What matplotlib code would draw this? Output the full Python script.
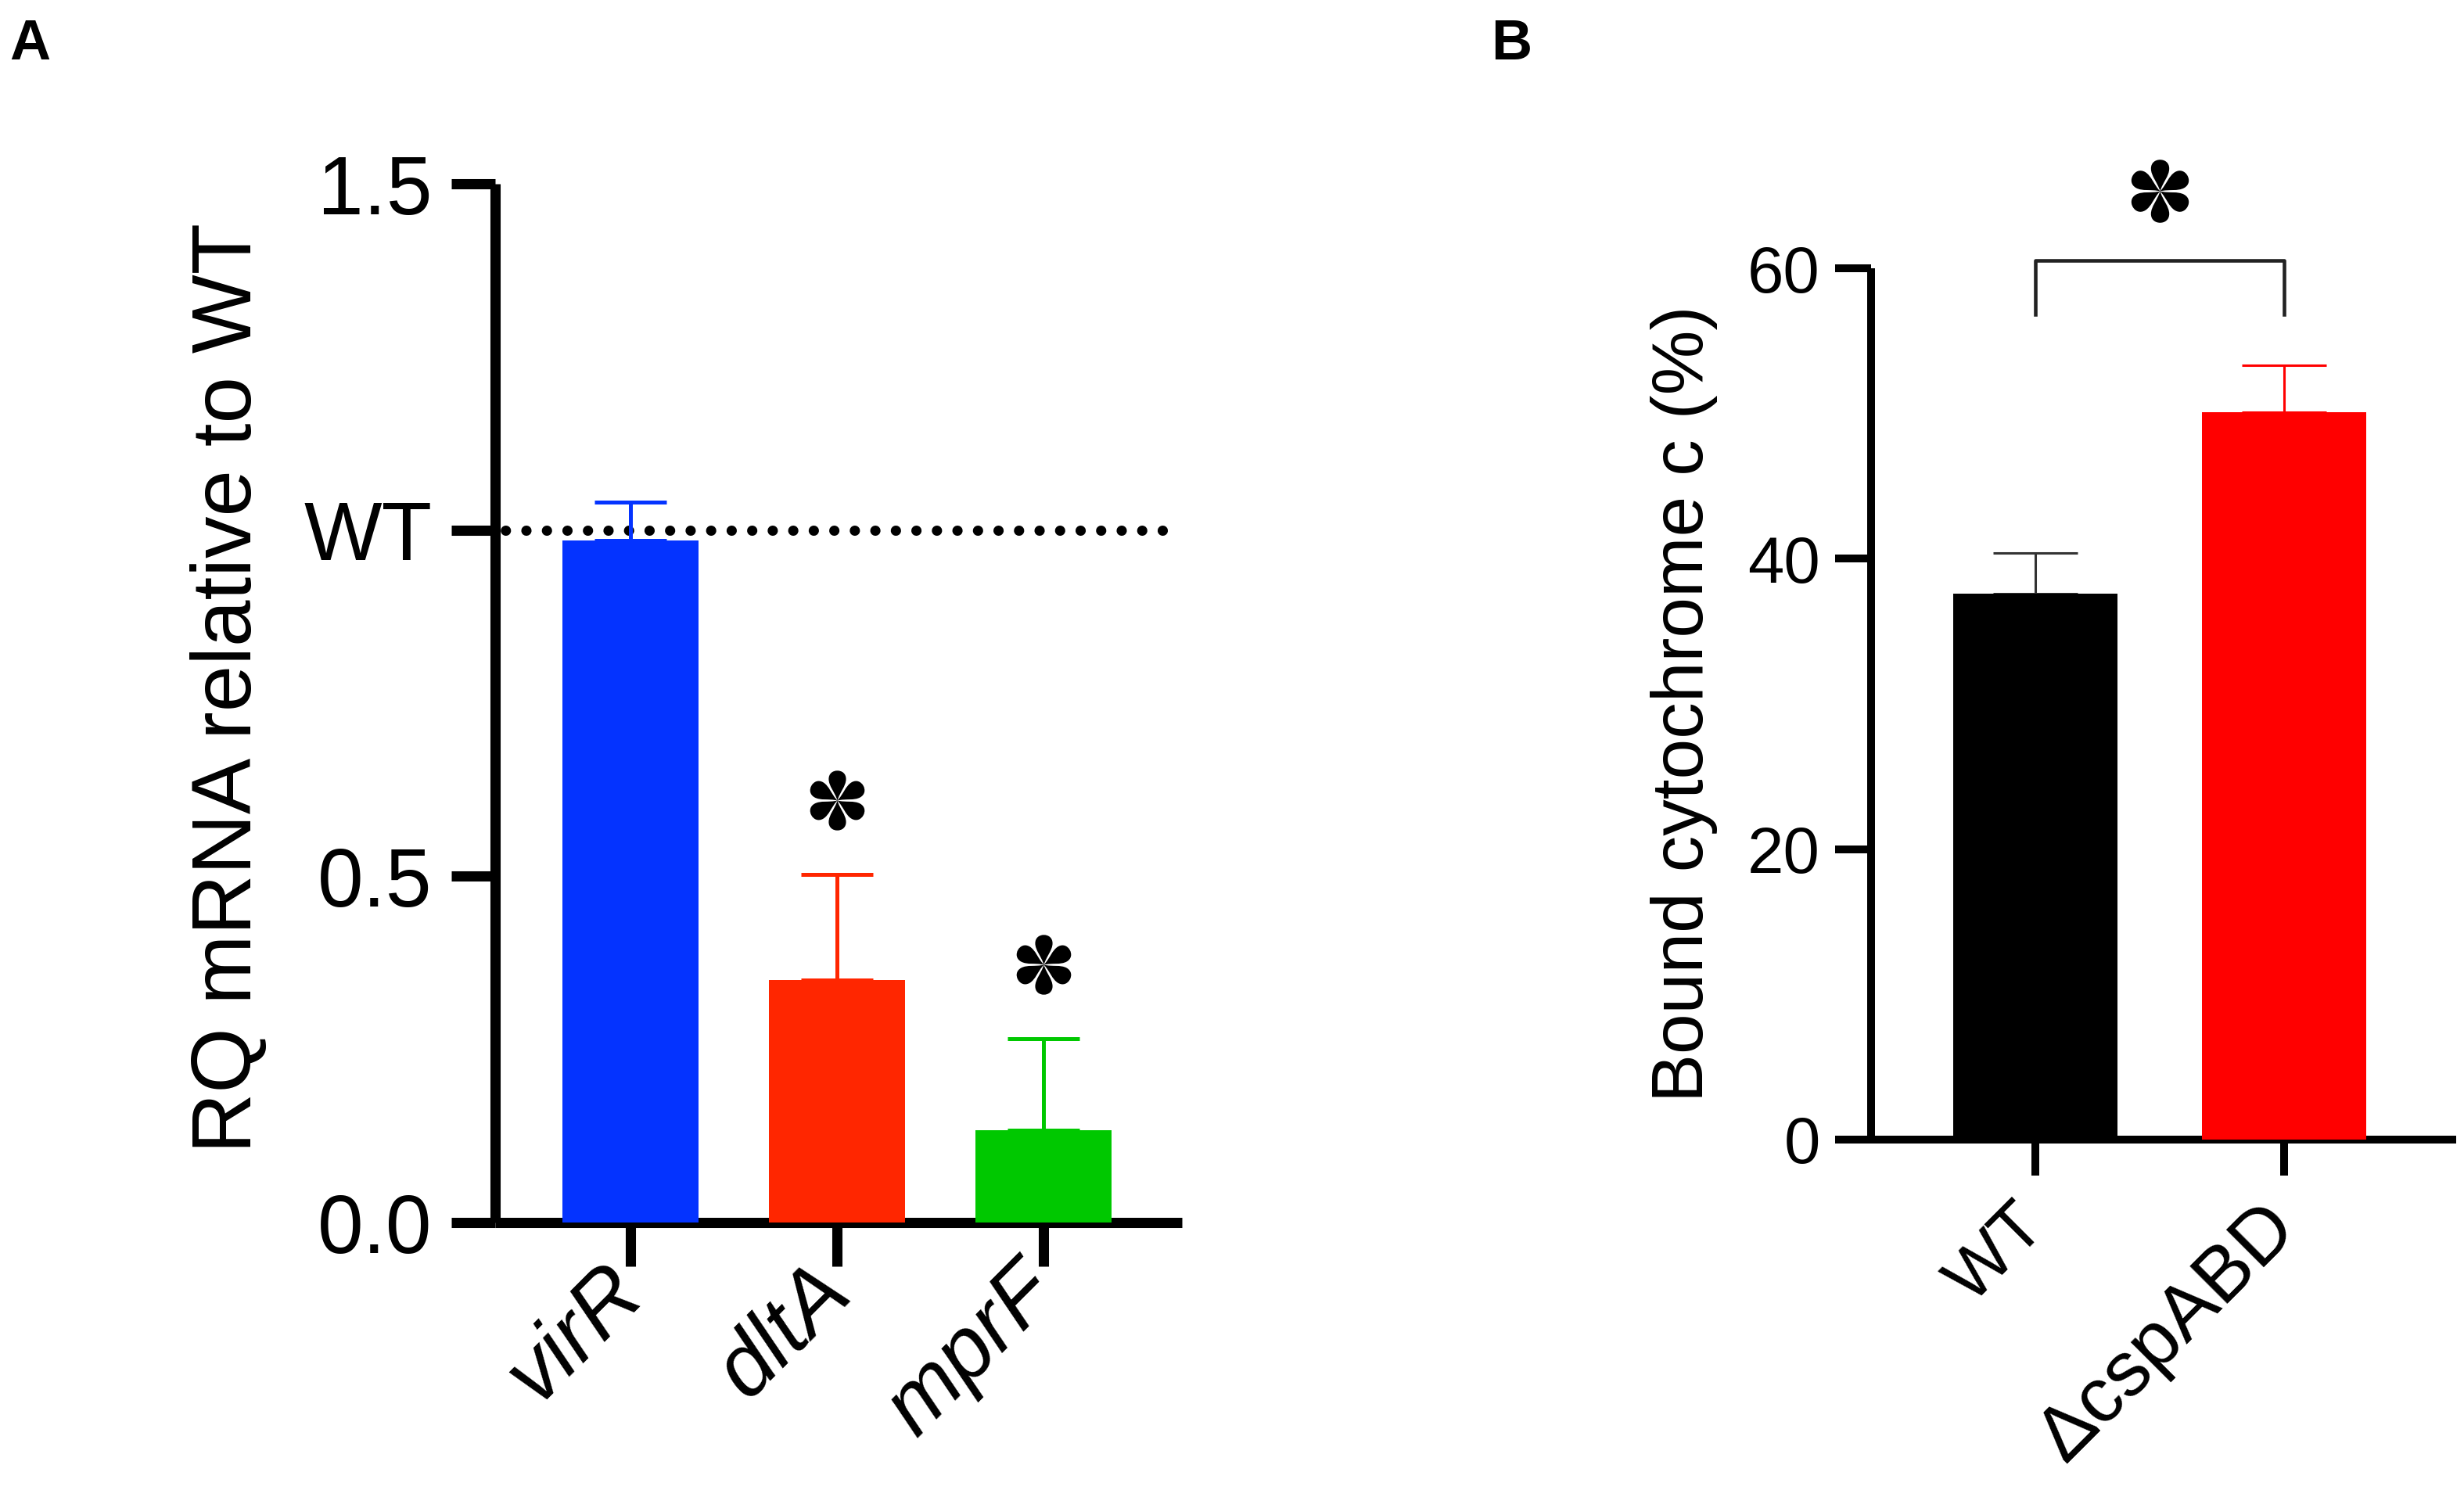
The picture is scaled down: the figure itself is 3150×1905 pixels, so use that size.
import numpy as np
import matplotlib
matplotlib.use("Agg")
import matplotlib.pyplot as plt
from matplotlib.path import Path
from matplotlib.transforms import Affine2D, ScaledTranslation

plt.rcParams['font.family'] = ['Liberation Sans', 'DejaVu Sans']

# ─── Data ─────────────────────────────────────────────────────────────────────

# Panel A: relative mRNA levels
genes_a = ["virR", "dltA", "mprF"]
rq_mean = [0.985, 0.35, 0.133]
rq_sem = [0.055, 0.153, 0.133]
colours_a = ["#0433FF", "#FF2600", "#00C800"]
sig_a = [False, True, True]
yticks_a = [0.0, 0.5, 1.0, 1.5]
yticklabels_a = ["0.0", "0.5", "WT", "1.5"]

# Panel B: bound cytochrome c
strains_b = ["WT", "\u0394cspABD"]
bound_mean = [37.6, 50.1]
bound_sem = [2.8, 3.2]
colours_b = ["#000000", "#FF0000"]
err_colours_b = ["#333333", "#FF0000"]
yticks_b = [0, 20, 40, 60]
bracket_b = 60.55
bracket_drop = 3.75


# ─── Helpers ──────────────────────────────────────────────────────────────────

def asterisk_marker():
    """Six teardrop petals, like the Prism significance star."""
    verts = [(0, 0), (0.08, 0.28), (0.29, 0.48), (0.29, 0.72),
             (0.29, 0.9), (0.16, 1.0), (0, 1.0),
             (-0.16, 1.0), (-0.29, 0.9), (-0.29, 0.72),
             (-0.29, 0.48), (-0.08, 0.28), (0, 0), (0, 0)]
    codes = [Path.MOVETO] + [Path.CURVE4] * 12 + [Path.CLOSEPOLY]
    petal = Path(verts, codes)
    petals = [petal.transformed(Affine2D().rotate_deg(a))
              for a in (0, 60, 120, 180, 240, 300)]
    return Path.make_compound_path(*petals)


STAR = asterisk_marker()


def draw_star(ax, x, y, offset_pt, size=55):
    shift = ScaledTranslation(0, offset_pt / 72, ax.figure.dpi_scale_trans)
    ax.plot([x], [y], marker=STAR, markersize=size, color="black", mew=0,
            linestyle="none", transform=ax.transData + shift, clip_on=False)


def style_axes(ax, lw, tick_len, label_size, pad):
    for side in ("top", "right"):
        ax.spines[side].set_visible(False)
    for side in ("left", "bottom"):
        ax.spines[side].set_linewidth(lw)
        ax.spines[side].set_capstyle("butt")
    ax.tick_params(axis="both", direction="out", length=tick_len, width=lw,
                   labelsize=label_size, pad=pad)


fig = plt.figure(figsize=(31.5, 19.05), dpi=100)

# ─── Panel A ──────────────────────────────────────────────────────────────────

ax_a = fig.add_axes([0.2010, 0.1795, 0.2787, 0.6971])
xa = np.arange(len(genes_a))
ax_a.bar(xa, rq_mean, width=0.66, color=colours_a, zorder=3)
for x, m, e, c in zip(xa, rq_mean, rq_sem, colours_a):
    ax_a.errorbar(x, m, yerr=[[0], [e]], color=c, lw=3.6, capsize=33,
                  capthick=3.6, zorder=2)
ax_a.axhline(1.0, color="black", lw=9.4, linestyle=(1.0, (0.01, 2.0)),
             dash_capstyle="round", zorder=1)

for x, m, e, s in zip(xa, rq_mean, rq_sem, sig_a):
    if s:
        draw_star(ax_a, x, m + e, 68)

style_axes(ax_a, 9.4, 40, 76, 18)
ax_a.tick_params(axis="x", pad=12)
ax_a.set_xlim(-0.655, 2.67)
ax_a.set_ylim(0, 1.5)
ax_a.set_yticks(yticks_a)
ax_a.set_yticklabels(yticklabels_a)
ax_a.set_xticks(xa)
ax_a.set_xticklabels(genes_a, rotation=45, ha="right", va="center",
                     rotation_mode="anchor", style="italic", fontsize=80)
ax_a.set_ylabel("RQ mRNA relative to WT", fontsize=77)
ax_a.yaxis.set_label_coords(-0.33, 0.515)

# ─── Panel B ──────────────────────────────────────────────────────────────────

ax_b = fig.add_axes([0.7594, 0.2352, 0.2374, 0.5847])
xb = np.arange(len(strains_b))
ax_b.bar(xb, bound_mean, width=0.66, color=colours_b, zorder=3)
for x, m, e, c in zip(xb, bound_mean, bound_sem, err_colours_b):
    ax_b.errorbar(x, m, yerr=[[0], [e]], color=c, lw=2.2, capsize=39,
                  capthick=2.2, zorder=2)

ax_b.plot([xb[0], xb[0], xb[1], xb[1]],
          [bracket_b - bracket_drop, bracket_b, bracket_b, bracket_b - bracket_drop],
          color="#222222", lw=3.3, clip_on=False)
draw_star(ax_b, xb.mean(), bracket_b, 64, size=58)

style_axes(ax_b, 7.2, 33, 60, 14)
ax_b.tick_params(axis="x", pad=38)
ax_b.set_xlim(-0.66, 1.69)
ax_b.set_ylim(0, 60)
ax_b.set_yticks(yticks_b)
ax_b.set_xticks(xb)
ax_b.set_xticklabels(strains_b, rotation=45, ha="right", va="center",
                     rotation_mode="anchor", fontsize=64)
ax_b.get_xticklabels()[1].set_fontsize(71)
ax_b.set_ylabel("Bound cytochrome c (%)", fontsize=67)
ax_b.yaxis.set_label_coords(-0.262, 0.5)

# ─── Panel letters ────────────────────────────────────────────────────────────

fig.text(0.004, 0.988, "A", fontsize=52, fontweight="bold", va="top")
fig.text(0.605, 0.988, "B", fontsize=52, fontweight="bold", va="top")

fig.savefig("out.png", dpi=100)
